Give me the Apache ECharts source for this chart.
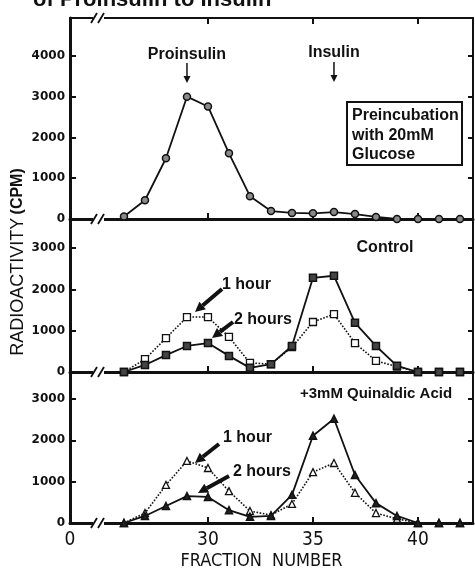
<!DOCTYPE html>
<html>
<head>
<meta charset="utf-8">
<script src="https://cdn.jsdelivr.net/npm/echarts@6/dist/echarts.min.js"></script>
<style>
html, body { margin: 0; padding: 0; background: #fff; }
#chart { width: 475px; height: 568px; }
</style>
</head>
<body>
<div id="chart"></div>
<script>
// fraction numbers (x) shared by all three panels
var fractions = [26, 27, 28, 29, 30, 31, 32, 33, 34, 35, 36, 37, 38, 39, 40, 41, 42];
// top panel: preincubation with 20mM glucose
var glucose   = [60, 460, 1490, 3000, 2760, 1610, 560, 195, 150, 140, 170, 120, 50, 0, 0, 0, 0];
// middle panel: control
var control1h = [0, 310, 820, 1330, 1330, 850, 220, 190, 600, 1210, 1400, 700, 270, 130, 0, 0, 0];
var control2h = [0, 170, 410, 630, 700, 390, 100, 190, 630, 2280, 2330, 1190, 630, 150, 0, 0, 0];
// bottom panel: +3mM quinaldic acid
var quin1h    = [0, 240, 920, 1500, 1330, 770, 290, 190, 460, 1230, 1450, 730, 240, 100, 0, 0, 0];
var quin2h    = [0, 170, 410, 650, 630, 310, 150, 170, 680, 2110, 2520, 1160, 480, 170, 0, 0, 0];

var yTicksTop = [0, 1000, 2000, 3000, 4000];
var yTicksLow = [0, 1000, 2000, 3000];
var xTicks = [30, 35, 40];
var xMin = 23.43, xMax = 42.62;   // left edge is labelled "0" (broken axis)
var yMax = [4930, 3680, 3650];

function pairs(ys) {
  return fractions.map(function (f, i) { return [f, ys[i]]; });
}

var INK = '#111';
var narrow = '"Liberation Sans Narrow", "DejaVu Sans Condensed", "Liberation Sans", sans-serif';
var grids = [
  { left: 70, right: 2, top: 18, height: 201, outerBoundsMode: 'none' },
  { left: 70, right: 2, top: 220, height: 152, outerBoundsMode: 'none' },
  { left: 70, right: 2, top: 372, height: 151, outerBoundsMode: 'none' }
];

var xAxes = [], yAxes = [];
grids.forEach(function (g, i) {
  xAxes.push({
    gridIndex: i, type: 'value', min: xMin, max: xMax,
    axisLine: { onZero: false, lineStyle: { color: INK, width: 3 } },
    axisTick: { inside: true, length: 6, customValues: xTicks, lineStyle: { color: INK, width: 2 } },
    axisLabel: i === 2 ? {
      customValues: [xMin].concat(xTicks),
      formatter: function (v) { return v < 25 ? '0' : String(Math.round(v)); },
      color: INK, fontSize: 19, fontFamily: narrow, margin: 8
    } : { show: false },
    splitLine: { show: false },
    name: i === 2 ? 'FRACTION  NUMBER' : '',
    nameLocation: 'middle', nameGap: 29,
    nameTextStyle: { color: INK, fontSize: 18, fontFamily: narrow, padding: [0, 20, 0, 0] }
  });
  yAxes.push({
    gridIndex: i, type: 'value', min: 0, max: yMax[i],
    axisLine: { show: true, onZero: false, lineStyle: { color: INK, width: 3 } },
    axisTick: { inside: true, length: 6, customValues: i === 0 ? yTicksTop : yTicksLow, lineStyle: { color: INK, width: 2 } },
    axisLabel: {
      customValues: i === 0 ? yTicksTop : yTicksLow,
      formatter: function (v) { return String(v); },
      color: INK, fontSize: 12, fontWeight: 'bold', fontFamily: 'DejaVu Sans', margin: 5
    },
    splitLine: { show: false }
  });
});
// top frame of the upper panel
xAxes.push({
  gridIndex: 0, type: 'value', position: 'top', min: xMin, max: xMax,
  axisLine: { onZero: false, lineStyle: { color: INK, width: 2 } },
  axisTick: { inside: true, length: 6, customValues: xTicks, lineStyle: { color: INK, width: 2 } },
  axisLabel: { show: false }, splitLine: { show: false }
});
// right frames
grids.forEach(function (g, i) {
  yAxes.push({
    gridIndex: i, type: 'value', position: 'right', min: 0, max: yMax[i],
    axisLine: { show: true, onZero: false, lineStyle: { color: INK, width: 2 } },
    axisTick: { inside: true, length: 5, customValues: i === 0 ? yTicksTop : yTicksLow, lineStyle: { color: INK, width: 2 } },
    axisLabel: { show: false }, splitLine: { show: false }
  });
});

function solid(name, idx, ys, symbol, fill) {
  return {
    name: name, type: 'line', xAxisIndex: idx, yAxisIndex: idx, data: pairs(ys),
    symbol: symbol, symbolSize: 7, z: 4,
    itemStyle: { color: fill, borderColor: INK, borderWidth: 1.5 },
    lineStyle: { color: INK, width: 1.8 }
  };
}
function dotted(name, idx, ys, symbol) {
  return {
    name: name, type: 'line', xAxisIndex: idx, yAxisIndex: idx, data: pairs(ys),
    symbol: symbol, symbolSize: 7, z: 3,
    itemStyle: { color: '#fff', borderColor: INK, borderWidth: 1.3 },
    lineStyle: { color: INK, width: 1.6, type: 'dotted' }
  };
}

var chart = echarts.init(document.getElementById('chart'));
chart.setOption({
  animation: false,
  backgroundColor: '#fff',
  grid: grids,
  xAxis: xAxes,
  yAxis: yAxes,
  series: [
    solid('20mM Glucose', 0, glucose, 'circle', '#8a8a8a'),
    dotted('Control 1 hour', 1, control1h, 'rect'),
    solid('Control 2 hours', 1, control2h, 'rect', '#444'),
    dotted('Quinaldic 1 hour', 2, quin1h, 'triangle'),
    solid('Quinaldic 2 hours', 2, quin2h, 'triangle', '#222')
  ]
});

// ---- annotations ----
function arrow(x1, y1, x2, y2, w, hl, hw) {
  var dx = x2 - x1, dy = y2 - y1, L = Math.sqrt(dx * dx + dy * dy);
  var ux = dx / L, uy = dy / L, bx = x2 - ux * hl, by = y2 - uy * hl;
  return [
    { type: 'line', z: 100, shape: { x1: x1, y1: y1, x2: bx, y2: by }, style: { stroke: INK, lineWidth: w } },
    { type: 'polygon', z: 100, shape: { points: [[x2, y2], [bx - uy * hw, by + ux * hw], [bx + uy * hw, by - ux * hw]] }, style: { fill: INK } }
  ];
}
function label(text, x, y, size, align) {
  return { type: 'text', z: 100, x: x, y: y,
    style: { text: text, fill: INK, font: 'bold ' + size + 'px "Liberation Sans", Arial, sans-serif', align: align || 'left', verticalAlign: 'middle' } };
}

var els = [];
// cropped figure title
els.push({ type: 'text', z: 100, x: 33, y: 11,
  style: { text: 'of Proinsulin to Insulin', fill: INK, font: 'bold 22px "Liberation Sans", Arial, sans-serif', verticalAlign: 'bottom' } });
// y axis title
els.push({ type: 'text', z: 100, x: 18, y: 262, rotation: Math.PI / 2,
  style: { text: '{a|RADIOACTIVITY} {b|(CPM)}', align: 'center', verticalAlign: 'middle',
    rich: { a: { fontSize: 18, fontFamily: 'Liberation Sans', fill: INK, color: INK },
            b: { fontSize: 16, fontWeight: 'bold', fontFamily: 'Liberation Sans', fill: INK, color: INK } } } });

// axis break marks
[18, 219, 372, 523].forEach(function (y) {
  els.push({ type: 'rect', z: 100, shape: { x: 93, y: y - 4, width: 11, height: 8 }, style: { fill: '#fff' } });
  els.push({ type: 'line', z: 101, shape: { x1: 91, y1: y + 5, x2: 97, y2: y - 5 }, style: { stroke: INK, lineWidth: 1.8 } });
  els.push({ type: 'line', z: 101, shape: { x1: 98, y1: y + 5, x2: 104, y2: y - 5 }, style: { stroke: INK, lineWidth: 1.8 } });
});

// peak markers in the top panel
var pPro = chart.convertToPixel({ gridIndex: 0 }, [29, 0]);
var pIns = chart.convertToPixel({ gridIndex: 0 }, [36, 0]);
els.push(label('Proinsulin', pPro[0], 55, 16, 'center'));
els = els.concat(arrow(pPro[0], 63, pPro[0], 83, 1.5, 7, 3.5));
els.push(label('Insulin', pIns[0], 53, 16, 'center'));
els = els.concat(arrow(pIns[0], 62, pIns[0], 82, 1.5, 7, 3.5));

// condition box
els.push({ type: 'rect', z: 100, shape: { x: 347, y: 102, width: 115, height: 63 }, style: { fill: '#fff', stroke: INK, lineWidth: 2 } });
els.push({ type: 'text', z: 101, x: 352, y: 106,
  style: { text: 'Preincubation\nwith 20mM\nGlucose', fill: INK, font: 'bold 16px "Liberation Sans", Arial, sans-serif', lineHeight: 19.5 } });

// panel labels
els.push(label('Control', 385, 248, 16, 'center'));
els.push(label('+3mM Quinaldic Acid', 376, 394, 15, 'center'));

// time labels with arrows
els.push(label('1 hour', 222, 285, 16));
els = els.concat(arrow(222, 289, 195, 312, 4, 10, 5));
els.push(label('2 hours', 234, 320, 16));
els = els.concat(arrow(233, 322, 212, 338, 4, 10, 5));
els.push(label('1 hour', 223, 438, 16));
els = els.concat(arrow(219, 444, 195, 463, 4, 10, 5));
els.push(label('2 hours', 233, 472, 16));
els = els.concat(arrow(229, 476, 198, 493, 4, 10, 5));

chart.setOption({ graphic: { elements: els } });
</script>
</body>
</html>
